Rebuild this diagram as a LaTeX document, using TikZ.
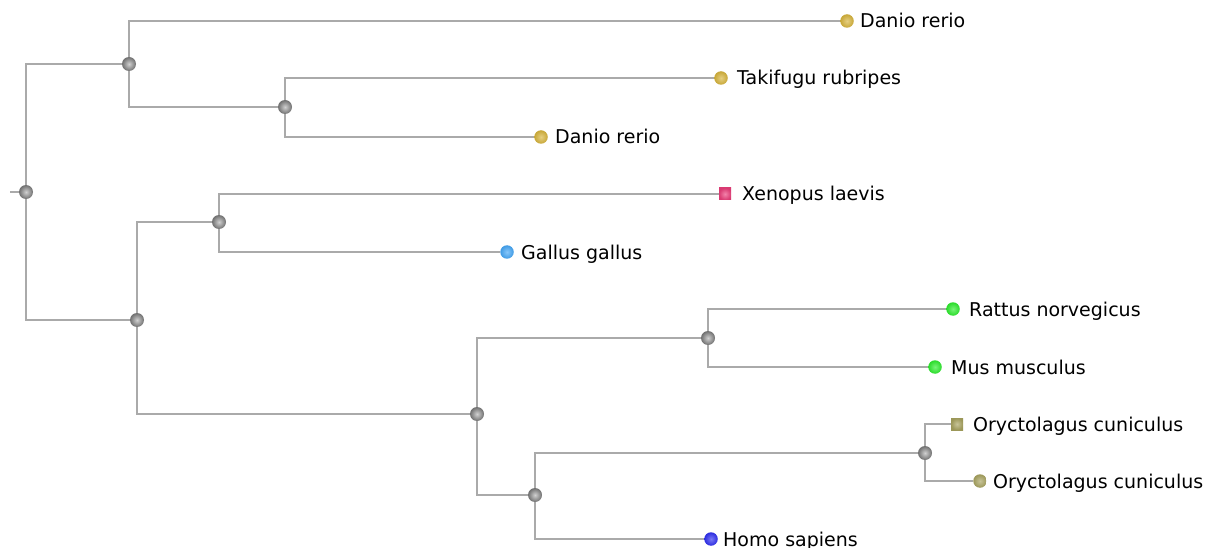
\documentclass[tikz,border=0pt]{standalone}
\usepackage{fontspec}
\setmainfont{DejaVu Sans}
\usetikzlibrary{backgrounds}
\definecolor{branchgray}{HTML}{AAAAAA}
\definecolor{fishgold}{HTML}{D8B53C}
\definecolor{frogpink}{HTML}{EC3F7C}
\definecolor{birdblue}{HTML}{45A8F8}
\definecolor{rodgreen}{HTML}{2EEE2E}
\definecolor{rabolive}{HTML}{A9A460}
\definecolor{humblue}{HTML}{3030F2}
\definecolor{nodegray}{HTML}{8C8C8C}
\begin{document}
\begin{tikzpicture}[x=1pt,y=-1pt,
  innernode/.style={circle,inner sep=0pt,minimum size=14pt,shading=radial,inner color=nodegray!40!white,outer color=nodegray!80!black},
  leaf/.style={circle,inner sep=0pt,minimum size=13.5pt,shading=radial,inner color=#1!65!white,outer color=#1!92!black},
  sqleaf/.style={rectangle,inner sep=0pt,minimum size=12pt,shading=radial,inner color=#1!65!white,outer color=#1!92!black},
  lbl/.style={anchor=base west,inner sep=0pt,font=\fontsize{19}{22}\selectfont},
  branch/.style={draw=branchgray,line width=2pt}]
\useasboundingbox (0,0) rectangle (1205,548);
% internal nodes
\node[innernode] (R) at (26,192) {};
\node[innernode] (A) at (129,64) {};
\node[innernode] (C) at (285,107) {};
\node[innernode] (B) at (137,320) {};
\node[innernode] (D) at (219,222) {};
\node[innernode] (E) at (477,414) {};
\node[innernode] (F) at (708,338) {};
\node[innernode] (G) at (535,495) {};
\node[innernode] (H) at (925,453) {};
\coordinate (stub) at (10,192);
% leaves
\node[leaf=fishgold] (l1) at (847,21) {};
\node[leaf=fishgold] (l2) at (721,78) {};
\node[leaf=fishgold] (l3) at (541,137) {};
\node[sqleaf=frogpink] (l4) at (725,194) {};
\node[leaf=birdblue] (l5) at (507,252) {};
\node[leaf=rodgreen] (l6) at (953,309) {};
\node[leaf=rodgreen] (l7) at (935,367) {};
\node[sqleaf=rabolive] (l8) at (957,424) {};
\node[leaf=rabolive] (l9) at (980,481) {};
\node[leaf=humblue] (l10) at (711,539) {};
% labels
\node[lbl] (t1) at (860,28) {Danio rerio};
\node[lbl] (t2) at (737,85) {Takifugu rubripes};
\node[lbl] (t3) at (555,144) {Danio rerio};
\node[lbl] (t4) at (742,201) {Xenopus laevis};
\node[lbl] (t5) at (521,259) {Gallus gallus};
\node[lbl] (t6) at (969,316) {Rattus norvegicus};
\node[lbl] (t7) at (951,374) {Mus musculus};
\node[lbl] (t8) at (973,431) {Oryctolagus cuniculus};
\node[lbl] (t9) at (993,488) {Oryctolagus cuniculus};
\node[lbl] (t10) at (723,546) {Homo sapiens};
% branches
\begin{pgfonlayer}{background}
\draw[branch] (stub) -- (R);
\draw[branch] (R) |- (A);
\draw[branch] (R) |- (B);
\draw[branch] (A) |- (l1);
\draw[branch] (A) |- (C);
\draw[branch] (C) |- (l2);
\draw[branch] (C) |- (l3);
\draw[branch] (B) |- (D);
\draw[branch] (B) |- (E);
\draw[branch] (D) |- (l4);
\draw[branch] (D) |- (l5);
\draw[branch] (E) |- (F);
\draw[branch] (E) |- (G);
\draw[branch] (F) |- (l6);
\draw[branch] (F) |- (l7);
\draw[branch] (G) |- (H);
\draw[branch] (G) |- (l10);
\draw[branch] (H) |- (l8);
\draw[branch] (H) |- (l9);
\end{pgfonlayer}
\end{tikzpicture}
\end{document}
